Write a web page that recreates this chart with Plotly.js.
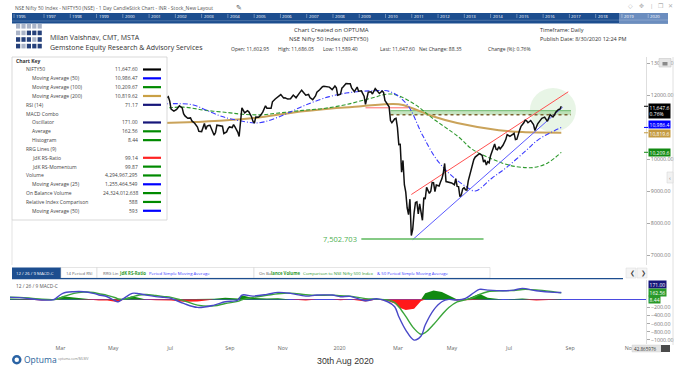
<!DOCTYPE html>
<html><head><meta charset="utf-8">
<script src="https://cdn.plot.ly/plotly-3.0.1.min.js"></script>
<style>html,body{margin:0;padding:0;background:#fff;}#chart{width:692px;height:372px;}</style>
</head><body><div id="chart"></div>
<script>
// ---------------- DATA ----------------
const priceDates = [
'2019-06-28','2019-07-01','2019-07-03','2019-07-04','2019-07-05','2019-07-08','2019-07-10','2019-07-12','2019-07-16','2019-07-18','2019-07-19','2019-07-22','2019-07-24','2019-07-26','2019-07-29','2019-07-31',
'2019-08-02','2019-08-05','2019-08-07','2019-08-09','2019-08-13','2019-08-14','2019-08-16','2019-08-19','2019-08-22','2019-08-23','2019-08-26','2019-08-28','2019-08-30',
'2019-09-03','2019-09-05','2019-09-06','2019-09-09','2019-09-12','2019-09-13','2019-09-16','2019-09-18','2019-09-19','2019-09-20','2019-09-23','2019-09-25','2019-09-27','2019-09-30',
'2019-10-03','2019-10-04','2019-10-07','2019-10-09','2019-10-11','2019-10-14','2019-10-16','2019-10-18','2019-10-22','2019-10-25','2019-10-29','2019-10-31',
'2019-11-04','2019-11-06','2019-11-08','2019-11-11','2019-11-14','2019-11-18','2019-11-20','2019-11-22','2019-11-26','2019-11-28',
'2019-12-03','2019-12-05','2019-12-06','2019-12-10','2019-12-12','2019-12-13','2019-12-17','2019-12-19','2019-12-20','2019-12-23','2019-12-27','2019-12-31',
'2020-01-02','2020-01-03','2020-01-06','2020-01-08','2020-01-09','2020-01-10','2020-01-14','2020-01-16','2020-01-17','2020-01-20','2020-01-22','2020-01-24','2020-01-27','2020-01-29','2020-01-31',
'2020-02-03','2020-02-05','2020-02-07','2020-02-10','2020-02-12','2020-02-14','2020-02-17','2020-02-19','2020-02-20','2020-02-24','2020-02-26','2020-02-27','2020-02-28',
'2020-03-02','2020-03-04','2020-03-05','2020-03-06','2020-03-09','2020-03-11','2020-03-12','2020-03-13','2020-03-16','2020-03-17','2020-03-18','2020-03-19','2020-03-20','2020-03-23','2020-03-24','2020-03-25','2020-03-26','2020-03-27','2020-03-30','2020-03-31',
'2020-04-01','2020-04-03','2020-04-07','2020-04-08','2020-04-09','2020-04-13','2020-04-15','2020-04-16','2020-04-17','2020-04-20','2020-04-21','2020-04-22','2020-04-24','2020-04-27','2020-04-28','2020-04-29','2020-04-30',
'2020-05-04','2020-05-06','2020-05-08','2020-05-12','2020-05-13','2020-05-14','2020-05-15','2020-05-18','2020-05-19','2020-05-20','2020-05-21','2020-05-22','2020-05-26','2020-05-27','2020-05-28','2020-05-29',
'2020-06-01','2020-06-02','2020-06-03','2020-06-05','2020-06-08','2020-06-10','2020-06-11','2020-06-12','2020-06-15','2020-06-16','2020-06-17','2020-06-18','2020-06-19','2020-06-22','2020-06-23','2020-06-24','2020-06-25','2020-06-26','2020-06-29',
'2020-07-01','2020-07-03','2020-07-06','2020-07-08','2020-07-10','2020-07-13','2020-07-14','2020-07-15','2020-07-17','2020-07-20','2020-07-22','2020-07-23','2020-07-24','2020-07-27','2020-07-29','2020-07-31',
'2020-08-03','2020-08-05','2020-08-07','2020-08-10','2020-08-12','2020-08-14','2020-08-18','2020-08-20','2020-08-21','2020-08-24','2020-08-26','2020-08-27','2020-08-28'];
const priceClose = [
11789,11866,11916,11947,11811,11558,11498,11552,11663,11597,11419,11347,11271,11284,11189,11118,
10997,10863,10856,11109,10926,11029,11048,11054,10742,10829,11058,11046,11023,
10797,10848,10946,11003,10982,11076,11004,10841,10704,11274,11600,11441,11512,11474,
11314,11175,11126,11314,11305,11341,11464,11662,11588,11584,11787,11877,
11941,12012,11908,11913,11872,11884,11999,11914,12037,12151,
11994,12018,11922,11857,11971,12087,12165,12260,12272,12263,12246,12168,
12282,12226,11993,12025,12216,12257,12362,12355,12352,12224,12106,12248,12120,12130,11962,
11708,12090,12098,12031,12202,12113,12046,12126,12081,11829,11678,11633,11202,
11132,11251,11270,10989,10451,10458,9590,9955,9197,8967,8469,8263,8745,7610,7801,8318,8641,8660,8281,8598,
8254,8084,8792,8748,9112,8994,8925,8992,9267,9262,8981,9187,9154,9282,9380,9553,9860,
9294,9270,9251,9197,9384,9143,9137,8823,8879,9067,9106,9039,9029,9315,9490,9580,
9826,9980,10061,10142,10168,10116,9902,9972,9814,9914,9881,10092,10244,10312,10471,10305,10288,10383,10312,
10430,10607,10763,10705,10768,10802,10607,10618,10902,11022,11132,11215,11194,11132,11202,11073,
10892,11101,11214,11270,11308,11178,11385,11312,11372,11466,11549,11559,11647.6];

const ma50Dates = ['2019-06-28','2019-07-15','2019-07-30','2019-08-13','2019-09-03','2019-09-26','2019-10-07','2019-10-17','2019-11-08','2019-12-03','2019-12-27','2020-01-14','2020-02-07','2020-02-28','2020-03-18','2020-04-03','2020-04-22','2020-05-08','2020-05-22','2020-06-03','2020-06-19','2020-07-06','2020-07-24','2020-08-06','2020-08-28'];
const ma50 = [11720,11730,11690,11530,11310,11160,11125,11160,11375,11690,11950,12060,12130,12100,11700,10750,10000,9480,9150,9000,9400,9750,10280,10620,10986.47];

const ma100Dates = ['2019-06-28','2019-07-19','2019-08-13','2019-09-06','2019-09-23','2019-10-15','2019-11-01','2019-11-29','2019-12-20','2020-01-14','2020-02-07','2020-03-02','2020-03-24','2020-04-20','2020-05-15','2020-06-01','2020-06-19','2020-07-08','2020-07-24','2020-08-03','2020-08-14','2020-08-28'];
const ma100 = [11580,11620,11520,11450,11400,11380,11430,11520,11580,11700,11900,12030,11750,11250,10690,10300,10000,9800,9730,9740,9870,10209.67];

const ma200Dates = ['2019-06-28','2019-08-01','2019-09-03','2019-10-10','2019-11-18','2020-01-03','2020-01-29','2020-03-03','2020-03-13','2020-03-27','2020-04-20','2020-05-14','2020-06-26','2020-07-21','2020-08-28'];
const ma200 = [11125,11160,11200,11290,11440,11590,11650,11720,11690,11530,11330,11125,10900,10840,10819.62];

// drawn studies (trend lines / zones)
const redTrendDates = ['2020-03-23','2020-09-04'];   const redTrend = [8890, 12100];
const blueTrendDates = ['2020-03-24','2020-08-31'];  const blueTrend = [7480, 11620];
const resistDates = ['2020-02-03','2020-03-19'];     const resist = [11600, 11600];
const zoneDates = ['2020-02-28','2020-09-08'];       const zoneTop = [11510, 11510]; const zoneBottom = [11385, 11385];
const supportDates = ['2020-01-29','2020-06-11'];    const support = [7502.703, 7502.703];
const supportLabel = '7,502.703';
const highlightCenter = ['2020-08-20', 11530];

// MACD 12/26/9
const macdDates = ['2019-01-16','2019-01-25','2019-02-06','2019-02-18','2019-02-28','2019-03-05','2019-03-12','2019-03-25','2019-04-03','2019-04-12','2019-04-22','2019-05-02','2019-05-10','2019-05-14','2019-05-20','2019-05-28','2019-06-04','2019-06-12','2019-06-21','2019-07-01','2019-07-08','2019-07-19','2019-08-02','2019-08-22','2019-09-04','2019-09-18','2019-09-23','2019-10-04','2019-10-22','2019-11-04','2019-11-18','2019-12-03','2019-12-13','2019-12-31',
'2020-01-08','2020-01-17','2020-02-03','2020-02-13','2020-02-26','2020-03-04','2020-03-09','2020-03-17','2020-03-25','2020-04-01','2020-04-08','2020-04-20','2020-04-28','2020-05-06','2020-05-14','2020-05-22','2020-06-02','2020-06-08','2020-06-16','2020-07-01','2020-07-13','2020-07-21','2020-08-04','2020-08-21','2020-08-28'];
const macdOsc = [50,45,15,-15,-10,25,150,190,190,150,110,66,-40,-58,25,150,140,107,70,49,25,-100,-198,-140,-58,-20,107,82,124,173,150,82,107,107,
66,75,-33,16,-58,-180,-428,-757,-1004,-905,-634,-263,-58,0,-16,25,165,247,230,214,230,272,214,173,171];
const macdAvg = [55,50,30,5,-5,0,60,150,180,170,140,100,40,10,5,60,110,120,95,70,50,-30,-140,-160,-100,-50,-10,50,100,140,155,115,100,105,
90,80,20,5,-15,-80,-180,-420,-720,-860,-820,-620,-380,-200,-60,-10,50,120,190,215,220,245,235,185,162.56];
const macdHist = [20,10,-10,-25,-10,20,80,50,20,-15,-25,-30,-60,-60,15,80,40,-10,-20,-20,-25,-60,-50,15,40,25,100,35,25,30,-5,-30,5,0,
-20,-5,-50,10,-40,-100,-200,-260,-230,-40,150,220,180,100,-30,-20,80,140,40,-5,10,20,-25,-15,8.44];

// NSE trading holidays (skipped by the time axis)
const nseHolidays = ['2019-03-04','2019-03-21','2019-04-17','2019-04-19','2019-04-29','2019-05-01','2019-06-05','2019-08-12','2019-08-15','2019-09-02','2019-09-10','2019-10-02','2019-10-08','2019-10-21','2019-10-28','2019-11-12','2019-12-25',
'2020-02-21','2020-03-10','2020-04-02','2020-04-06','2020-04-10','2020-04-14','2020-05-01','2020-05-25','2020-10-02','2020-11-16'];

const timeTickDates = ['2019-03-01','2019-05-02','2019-07-01','2019-09-03','2019-11-01','2020-01-01','2020-03-02','2020-05-04','2020-07-01','2020-09-01','2020-11-02'];
const timeTickText = ['Mar','May','Jul','Sep','Nov','2020','Mar','May','Jul','Sep','Nov'];
const priceTicks = [7000,8000,9000,10000,12000,13000];
const macdTicks = [-200,-400,-600,-800,-1000];

const keyNames = ['NIFTY50','Moving Average (50)','Moving Average (100)','Moving Average (200)','RSI (14)','MACD Combo','Oscillator','Average','Histogram','RRG Lines (9)','JdK RS-Ratio','JdK RS-Momentum','Volume','Moving Average (25)','On Balance Volume','Relative Index Comparison','Moving Average (50)'];
const keyValues = ['11,647.60','10,986.47','10,209.67','10,819.62','71.17','','171.00','162.56','8.44','','99.14','99.87','4,294,967,295','1,255,464,549','24,324,012,638','588','593'];
const keyColors = ['#000000','#0000ff','#008a00','#c9a045','#16167a',null,'#16167a','#008a00','#008a00',null,'#ff2222','#008a00','#008a00','#0000ff','#008a00','#008a00','#0000ff'];
const keyIndent = [0,1,1,1,0,0,1,1,1,0,1,1,0,1,0,0,1];

const years = [1995,1997,1998,1999,2000,2001,2002,2003,2004,2005,2006,2007,2008,2009,2010,2011,2012,2013,2014,2015,2016,2017,2018,2019,2020];

const priceFlags = [
  {v:11647.60, text:'11,647.6<br>0.76%', bg:'#000000', anchor:'top', shift:3.5},
  {v:10986.47, text:'10,986.4', bg:'#0000ff', anchor:'middle', shift:2.5},
  {v:10819.62, text:'10,819.6', bg:'#c49a40', anchor:'middle', shift:-0.5},
  {v:10209.67, text:'10,209.6', bg:'#138a13', anchor:'middle', shift:0}
];
const macdFlags = [
  {v:171.00, text:'171.00', bg:'#16167a', shift:8},
  {v:162.56, text:'162.56', bg:'#2a9a2a', shift:0},
  {v:8.44, text:'8.44', bg:'#2a9a2a', shift:-0.5}
];

// ---------------- HELPERS ----------------
const W = 692, H = 372;
const F = '"Open Sans", "Noto Sans", sans-serif';
const px = x => x / W, py = y => 1 - y / H;
function T(x, y, text, size, color, extra) {
  return Object.assign({xref:'paper', yref:'paper', x:px(x), y:py(y), text:text, showarrow:false,
    xanchor:'left', yanchor:'middle', borderpad:0, font:{family:F, size:size, color:color}}, extra || {});
}
function R(x0, y0, x1, y1, fill, lc, lw, extra) {
  return Object.assign({type:'rect', xref:'paper', yref:'paper', x0:px(x0), x1:px(x1), y0:py(y1), y1:py(y0),
    fillcolor:fill, line:{color:lc || 'rgba(0,0,0,0)', width:lw || 0}, layer:'above'}, extra || {});
}
function L(x0, y0, x1, y1, c, w) {
  return {type:'line', xref:'paper', yref:'paper', x0:px(x0), x1:px(x1), y0:py(y0), y1:py(y1), line:{color:c, width:w}, layer:'above'};
}

// ---------------- TRACES ----------------
const traces = [
  {x:zoneDates, y:zoneBottom, mode:'lines', line:{color:'#7a6230', width:1.6, dash:'dot'}, hoverinfo:'skip'},
  {x:zoneDates, y:zoneTop, mode:'lines', fill:'tonexty', fillcolor:'rgba(150,205,140,0.55)', line:{color:'#6cb86c', width:1}, hoverinfo:'skip'},
  {x:resistDates, y:resist, mode:'lines', line:{color:'#ff6a6a', width:1}},
  {x:ma200Dates, y:ma200, mode:'lines', line:{color:'#caa35a', width:2, shape:'spline'}},
  {x:ma100Dates, y:ma100, mode:'lines', line:{color:'#2f9a2f', width:1.1, dash:'4px,2px', shape:'spline'}},
  {x:ma50Dates, y:ma50, mode:'lines', line:{color:'#3a3aff', width:1.1, dash:'5px,2px,1px,2px', shape:'spline'}},
  {x:redTrendDates, y:redTrend, mode:'lines', line:{color:'#ff5050', width:1}},
  {x:blueTrendDates, y:blueTrend, mode:'lines', line:{color:'#5a5aff', width:1}},
  {x:supportDates, y:support, mode:'lines', line:{color:'#5cb85c', width:1.5}},
  {x:priceDates, y:priceClose, mode:'lines', line:{color:'#111111', width:1.5}},
  // MACD panel
  {x:macdDates, y:macdHist.map(v => Math.max(v, 0)), xaxis:'x2', yaxis:'y2', mode:'lines', line:{width:0, color:'#118a11'}, fill:'tozeroy', fillcolor:'#118a11'},
  {x:macdDates, y:macdHist.map(v => Math.min(v, 0)), xaxis:'x2', yaxis:'y2', mode:'lines', line:{width:0, color:'#ff1a1a'}, fill:'tozeroy', fillcolor:'#ff1a1a'},
  {x:macdDates, y:macdAvg, xaxis:'x2', yaxis:'y2', mode:'lines', line:{color:'#3aa53a', width:1.4, shape:'spline'}},
  {x:macdDates, y:macdOsc, xaxis:'x2', yaxis:'y2', mode:'lines', line:{color:'#4848c8', width:1.4, shape:'spline'}}
];

// ---------------- LAYOUT ----------------
const rb = [{bounds:['sat','mon']}, {values:nseHolidays}];
const xRange = ['2019-01-16', '2020-11-25'];
const shapes = [], ann = [];

// header
ann.push(T(14, 8, 'NSE Nifty 50 Index - NIFTY50 (NSE) - 1 Day CandleStick Chart - INR - Stock_New Layout', 5, '#555'));
ann.push(T(235, 7.5, '✎', 7, '#555'));
[['◇',627],['✥',638],['|',649],['❐',657],['✕',667]].forEach(a => ann.push(T(a[1], 6, a[0], 6, '#b0b0b0')));
shapes.push(R(12, 13, 668, 23.5, '#1d4e8f'));
shapes.push(R(619, 13, 668, 23.5, '#6b8dbf'));
years.forEach(yr => {
  const x = yr === 1995 ? 15 : 45 + (yr - 1997) * 26.27;
  ann.push(T(x, 16.3, String(yr), 4.3, '#ffffff'));
  shapes.push(L(x - 1, 14, x - 1, 18, 'rgba(255,255,255,0.7)', 0.5));
});
shapes.push(L(12, 21, 668, 20, 'rgba(255,255,255,0.35)', 0.6));

// logo grid
const logoPat = ['LLLLL', 'LLDDD', 'DDDLD', 'DLDDD'];
logoPat.forEach((row, r) => row.split('').forEach((c, k) => {
  shapes.push(R(16 + k * 5.4, 24 + r * 6.6, 16 + k * 5.4 + 4.2, 24 + r * 6.6 + 4.6, c === 'D' ? '#25407a' : '#aab4c8'));
}));
ann.push(T(49, 37, 'Milan Vaishnav, CMT, MSTA', 7, '#333'));
ann.push(T(49, 47, 'Gemstone Equity Research &amp; Advisory Services', 7, '#333'));
ann.push(T(293, 29.5, 'Chart Created on OPTUMA', 6, '#333'));
ann.push(T(288, 38.5, 'NSE Nifty 50 Index (NIFTY50)', 6, '#333'));
[['Open: 11,602.95',230],['High: 11,686.05',277],['Low: 11,589.40',322],['Last: 11,647.60',379],['Net Change: 88.35',418],['Change (%): 0.76%',487]]
  .forEach(a => ann.push(T(a[1], 48.5, a[0], 5, '#333')));
ann.push(T(539, 29.5, 'Timeframe: Daily', 5.5, '#333'));
ann.push(T(539, 38.5, 'Publish Date: 8/30/2020 12:24 PM', 5.5, '#333'));

// chart key
shapes.push(R(12, 57, 167, 220, '#ffffff', '#cfcfcf', 0.8));
shapes.push(L(12, 220, 12, 265, '#dcdcdc', 0.8));
ann.push(T(15, 61.5, '<b>Chart Key</b>', 5, '#333'));
keyNames.forEach((nm, i) => {
  const y = 69.5 + i * 8.83;
  ann.push(T(keyIndent[i] ? 31 : 25, y, nm, 5, '#444'));
  if (keyValues[i]) ann.push(T(138.5, y, keyValues[i], 5, '#444', {xanchor:'right'}));
  if (keyColors[i]) shapes.push(R(143, y - 1.1, 161, y + 1.1, keyColors[i]));
});

// right-hand axis decorations
shapes.push(L(673, 57, 673, 345, '#d8d8d8', 0.8));
shapes.push(R(659, 58.5, 671, 67, '#e6e6e6', '#c8c8c8', 0.6));
shapes.push(R(662.5, 62, 667.5, 65.5, '#8a8a8a'));
shapes.push(R(667, 172, 673, 183, '#f2f2f2', '#d0d0d0', 0.5));
ann.push(T(668, 177.5, '‹', 6, '#777'));

// flags on price axis
priceFlags.forEach(f => ann.push({xref:'paper', yref:'y', x:px(648), y:f.v, yshift:f.shift, xanchor:'left', yanchor:f.anchor,
  text:f.text, showarrow:false, align:'left', bgcolor:f.bg, borderpad:0.6, font:{family:F, size:5, color:'#fff'}}));
priceFlags.forEach(f => shapes.push({type:'line', xref:'paper', yref:'y', x0:px(644), x1:px(648), y0:f.v, y1:f.v, line:{color:f.bg, width:1}, layer:'above'}));

// support label
ann.push({xref:'x', yref:'y', x:supportDates[0], y:support[0], xanchor:'right', yanchor:'middle', xshift:-2, text:supportLabel,
  showarrow:false, font:{family:F, size:7.5, color:'#4caf50'}});

// highlight circle
shapes.push({type:'circle', xref:'x', yref:'y', xsizemode:'pixel', ysizemode:'pixel', xanchor:highlightCenter[0], yanchor:highlightCenter[1],
  x0:-23, x1:23, y0:-22, y1:22, fillcolor:'rgba(205,232,200,0.45)', line:{width:0}, layer:'below'});

// tab bar
shapes.push(R(12, 267.5, 61, 278, '#1d4e8f'));
ann.push(T(15, 273, '12 / 26 / 9 MACD-C', 4.3, '#ffffff'));
shapes.push(R(61, 267.5, 97, 278, '#ffffff', '#d4d4d4', 0.6));
ann.push(T(65, 273, '14 Period RSI', 4.3, '#666'));
shapes.push(R(97, 267.5, 254, 278, '#ffffff', '#d4d4d4', 0.6));
ann.push(T(102, 273, 'RRG Lin', 4.3, '#666'));
ann.push(T(118, 273, '<b>JdK RS-Ratio</b>', 4.3, '#2e9a2e'));
ann.push(T(148, 273, 'Period Simple Moving Average', 4.3, '#3a3aff'));
shapes.push(R(254, 267.5, 490, 278, '#ffffff', '#d4d4d4', 0.6));
ann.push(T(258, 273, 'On Ba', 4.3, '#666'));
ann.push(T(270, 273, '<b>lance Volume</b>', 4.3, '#2e9a2e'));
ann.push(T(302, 273, 'Comparison to NSE Nifty 500 Index', 4.3, '#2e9a2e'));
ann.push(T(376, 273, '&amp; 50 Period Simple Moving Average', 4.3, '#3a3aff'));
shapes.push(L(12, 278.6, 623, 278.6, '#1d4e8f', 1.4));
shapes.push(R(626, 268, 636, 278, '#f4f4f4', '#d8d8d8', 0.5));
shapes.push(R(637, 268, 647, 278, '#f4f4f4', '#d8d8d8', 0.5));
ann.push(T(628.5, 273, '❮', 5.5, '#444'));
ann.push(T(639.5, 273, '❯', 5.5, '#444'));

// MACD panel label + flags
ann.push(T(15, 285.5, '12 / 26 / 9 MACD-C', 4.8, '#555'));
macdFlags.forEach(f => ann.push({xref:'paper', yref:'y2', x:px(648), y:f.v, yshift:f.shift, xanchor:'left', yanchor:'middle',
  text:f.text, showarrow:false, bgcolor:f.bg, borderpad:0.6, font:{family:F, size:5, color:'#fff'}}));

// footer
shapes.push(R(632, 345, 661, 352, '#e4e4e4', '#cccccc', 0.4));
shapes.push(R(661, 345, 670, 352, '#4a4a4a'));
ann.push(T(633, 348.6, '42.865976', 4.6, '#333'));
shapes.push({type:'circle', xref:'paper', yref:'paper', x0:px(12), x1:px(21.5), y0:py(364.5), y1:py(355), fillcolor:'#2a63a4', line:{width:0}, layer:'above'});
shapes.push({type:'circle', xref:'paper', yref:'paper', x0:px(14.5), x1:px(19), y0:py(362), y1:py(357.5), fillcolor:'#ffffff', line:{width:0}, layer:'above'});
ann.push(T(22.5, 359.8, 'Optuma', 8.5, '#2a5f9a'));
ann.push(T(57, 358.5, 'optuma.com/MLMV', 3.3, '#888'));
ann.push(T(316, 360.5, '30th Aug 2020', 8.8, '#333', {font:{family:'"Liberation Sans", Arial, sans-serif', size:8.8, color:'#333'}}));

const layout = {
  width:W, height:H, margin:{l:0, r:0, t:0, b:0}, paper_bgcolor:'#ffffff', plot_bgcolor:'rgba(0,0,0,0)',
  showlegend:false, hovermode:false,
  xaxis:{domain:[px(10), px(646)], anchor:'y', type:'date', range:xRange, rangebreaks:rb, showticklabels:false,
    showgrid:false, zeroline:false, showline:false, ticks:''},
  yaxis:{domain:[py(265), py(57)], anchor:'x', side:'right', range:[6687.5, 13187.5], tickvals:priceTicks, tickformat:'.2f',
    ticks:'outside', ticklen:3, tickcolor:'#aaa', tickfont:{family:F, size:5.3, color:'#777'}, showgrid:false, zeroline:false,
    showline:true, linecolor:'#d6d6d6', linewidth:0.8},
  xaxis2:{domain:[px(10), px(646)], anchor:'y2', type:'date', matches:'x', range:xRange, rangebreaks:rb,
    tickvals:timeTickDates, ticktext:timeTickText, ticklabelshift:6, ticks:'', tickfont:{family:F, size:5.3, color:'#666'},
    showgrid:false, zeroline:false, showline:false},
  yaxis2:{domain:[py(344), py(280)], anchor:'x2', side:'right', range:[-1101, 479], tickvals:macdTicks, tickformat:'.2f',
    ticks:'outside', ticklen:3, tickcolor:'#aaa', tickfont:{family:F, size:5.3, color:'#777'}, showgrid:false,
    zeroline:true, zerolinecolor:'#4a4ae0', zerolinewidth:1, showline:true, linecolor:'#d6d6d6', linewidth:0.8},
  shapes:shapes, annotations:ann
};

Plotly.newPlot('chart', traces, layout, {staticPlot:true, displayModeBar:false});
</script></body></html>
